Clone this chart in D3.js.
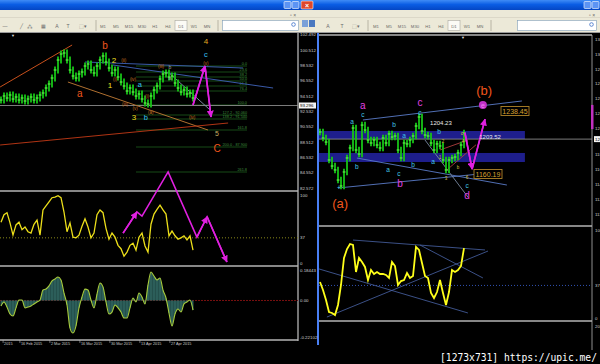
<!DOCTYPE html>
<html>
<head>
<meta charset="utf-8">
<script src="https://cdn.jsdelivr.net/npm/d3@7"></script>
<style>
  body { margin: 0; background: #000; overflow: hidden; }
  svg { display: block; font-family: "Liberation Sans", Arial, sans-serif; }
</style>
</head>
<body>
<div id="chart"></div>
<script>
// ---- values ----
// left window (D1), one close per bar
const leftClose = [94.01, 94.53, 94.27, 94.66, 94.14, 94.40, 94.01, 94.27, 93.88, 94.14,
  94.40, 94.01, 94.27, 94.66, 94.92, 95.57, 96.09, 96.87, 97.91, 99.21,
  99.99, 100.12, 99.21, 97.91, 97.13, 96.87, 97.39, 97.65, 98.43, 98.69,
  97.91, 97.52, 98.43, 99.21, 99.73, 98.95, 98.17, 97.52, 97.91, 97.00,
  96.35, 95.83, 95.18, 95.57, 95.05, 94.53, 94.79, 94.14, 93.62, 93.49,
  94.53, 95.31, 95.83, 96.74, 97.39, 97.52, 97.00, 97.13, 96.22, 95.57,
  95.05, 95.31, 94.79, 94.92, 94.27];
const leftOsc = [60, 71, 74, 59, 41, 56, 60, 49, 53, 46, 44, 57, 63, 41, 78, 84, 90, 96, 97, 99,
  96, 75, 46, 59, 38, 37, 41, 54, 65, 53, 37, 44, 71, 78, 74, 51, 35, 44, 38, 26,
  21, 10, 16, 26, 29, 19, 38, 44, 25, 16, 57, 72, 79, 85, 78, 72, 40, 47, 40, 35,
  37, 40, 34, 40, 19];
const leftMacd = [-0.033, -0.009, -0.040, -0.082, -0.094, -0.045, 0.003, 0.003, -0.045, -0.040,
  -0.033, -0.021, -0.009, 0.003, 0.063, 0.069, 0.088, 0.118, 0.130, 0.142,
  0.124, 0.045, -0.027, -0.167, -0.197, -0.154, -0.045, 0.021, 0.069, 0.063,
  0.003, -0.045, 0.039, 0.106, 0.082, -0.009, -0.082, -0.070, -0.027, -0.045,
  -0.070, -0.106, -0.106, -0.045, 0.015, -0.009, 0.045, 0.021, -0.021, 0.094,
  0.172, 0.148, 0.124, 0.136, 0.063, 0.015, -0.076, -0.154, -0.082, -0.052,
  -0.070, -0.021, -0.009, 0.003, -0.058];
// right window
const rightClose = [1212.4, 1204.9, 1199.9, 1177.6, 1170.1, 1165.2, 1152.7, 1145.3, 1162.7, 1180.1,
  1192.5, 1217.3, 1190.0, 1185.0, 1221.0, 1214.8, 1202.4, 1198.7, 1202.4, 1196.2,
  1192.5, 1204.9, 1198.7, 1209.9, 1206.1, 1207.4, 1190.0, 1180.1, 1198.7, 1197.5,
  1202.4, 1207.4, 1219.8, 1231.0, 1213.6, 1208.6, 1207.4, 1198.7, 1190.0, 1197.5,
  1195.0, 1177.6, 1165.2, 1177.6, 1180.1, 1181.3, 1186.3, 1196.2, 1211.1];
const rightOsc = [40.9, 31.8, 20.5, 6.8, 5.7, 3.4, 14.8, 37.5, 68.2, 78.4,
  84.1, 83.0, 52.3, 68.2, 63.6, 58.0, 43.2, 54.5, 50.0, 52.3,
  50.0, 50.0, 48.9, 45.5, 63.6, 59.1, 37.5, 42.0, 43.2, 51.1,
  45.5, 47.7, 80.7, 77.3, 62.5, 47.7, 45.5, 28.4, 22.7, 29.5,
  43.2, 28.4, 14.8, 29.5, 54.5, 52.3, 54.5, 59.1, 79.5];

const leftPrice = 93.296;
const rightPrice = 1203.52;
const leftPriceTicks = [102.492, 100.512, 98.532, 96.552, 94.512, 92.532, 90.552, 88.512, 86.532, 84.552, 82.572];
const rightPriceTicks = [1327.8, 1309.2, 1290.6, 1272.0, 1253.4, 1234.8, 1216.2, 1184.6, 1166.0, 1147.4, 1128.8, 1110.2];
const oscTicks = [100, 37, 0];
const macdTicks = [0.18443, 0, -0.22102];
const macdTickLabels = ["0.18443", "0.00", "-0.22102"];
const dateTicks = [0.7, 6.3, 16.3, 26.3, 36.3, 46.3, 56.3];
const dateLabels = ["2015", "16 Feb 2015", "2 Mar 2015", "16 Mar 2015", "30 Mar 2015", "13 Apr 2015", "27 Apr 2015"];
const timeframes = ["M1", "M5", "M15", "M30", "H1", "H4", "D1", "W1", "MN"];

// fibonacci expansion on the left chart
const fibPrices = [98.43, 97.65, 97.00, 96.48, 95.83, 95.18, 93.36, 92.06, 91.54, 90.11, 87.90, 84.65];
const fibLabels = ["0.0", "23.6", "38.2", "50.0", "61.8", "76.4", "100.0", "127.2 - 92.060", "138.2 - 91.540", "161.8", "200.0 - 87.900", "261.8"];

// trend lines [bar1, value1, bar2, value2, kind]
const leftLines = [
  [-0.3, 95.70, 23.7, 101.16, "orange"],
  [22.3, 96.35, 69, 90.11, "tan"],
  [-0.3, 88.16, 75.7, 91.02, "red"],
  [28, 98.95, 80.7, 98.17, "blue"],
  [37.3, 98.56, 90.7, 95.57, "blue"],
  [55.7, 97.65, 69.7, 92.71, "gray"]
];
const rightLines = [
  [14.3, 1227.3, 67.3, 1250.9, "steel"],
  [6, 1142.8, 60, 1162.7, "steel"],
  [12.3, 1180.0, 62.3, 1146.5, "steel"],
  [35, 1202.4, 49.3, 1131.6, "gray"],
  [42.3, 1165.2, 52, 1196.5, "redthin"],
  [40, 1190.0, 49.3, 1202.4, "redthin"]
];
const rightOscLines = [
  [11, 88.6, 55, 77.3],
  [-0.3, 55.7, 49.3, 5.7],
  [2.3, 1.1, 56, 76.1],
  [33.3, 83.0, 54.3, 45.5]
];
const rightZones = [[1203.7, 1213.6], [1175.1, 1186.3]];

// wave labels [text, bar, value, kind]
const leftWaves = [
  ["b", 34.7, 101.16, "primary"], ["a", 26.3, 94.92, "primary"],
  ["2", 37.7, 99.21, "inter"], ["(ii)", 40.9, 99.21, "sub"],
  ["1", 36.3, 95.96, "inter"], ["(i)", 38, 96.74, "sub"],
  ["(iv)", 44, 96.74, "sub"], ["a", 46.3, 96.09, "minor"],
  ["(iii)", 41.3, 93.49, "sub"], ["(v)", 44.7, 92.97, "sub"],
  ["(i)", 48.7, 94.53, "sub"], ["(a)", 49.9, 92.45, "sub"],
  ["3", 44.3, 91.8, "inter"], ["b", 48.3, 91.8, "minor"],
  ["(iii)", 53.3, 98.43, "sub"], ["b", 56.3, 98.30, "dim"],
  ["a", 56.3, 96.87, "dim"], ["(iv)", 63.7, 91.80, "sub"],
  ["4", 68.3, 101.68, "four"], ["c", 68.3, 99.99, "minor"],
  ["(v)", 68.3, 98.82, "sub"], ["5", 72, 89.72, "five"],
  ["C", 72, 87.77, "primary"]
];
const rightWaves = [
  ["a", 14.3, 1244.7, "magenta"], ["c", 14.3, 1233.5, "cyan"],
  ["a", 10.7, 1226.0, "cyan"], ["c", 33.3, 1249.6, "magenta"],
  ["c", 33.3, 1236.0, "cyan"], ["b", 12.3, 1168.9, "cyan"],
  ["b", 24.7, 1221.1, "cyan"], ["a", 28, 1207.4, "cyan"],
  ["a", 22.7, 1165.2, "cyan"], ["c", 26.3, 1160.2, "cyan"],
  ["b", 31, 1172.6, "cyan"], ["b", 26.7, 1147.8, "magenta"],
  ["1204.23", 40.3, 1223.5, "white"], ["b", 39.7, 1212.4, "cyan"],
  ["a", 37.7, 1175.1, "cyan"], ["3", 42, 1155.2, "num"],
  ["c", 49, 1146.5, "cyan"], ["d", 49, 1132.9, "magenta"],
  ["(a)", 6.7, 1123.5, "primaryL"], ["(b)", 54.7, 1264.5, "primaryL"],
  ["+", 6.3, 1142.8, "cyan"], ["1203.52", 56.7, 1206.2, "white"],
  ["c", 47.3, 1209.9, "num"], ["4", 47.7, 1200.0, "num"],
  ["2", 41, 1200.0, "num"], ["1", 40, 1181.3, "num"],
  ["b", 46, 1167.7, "num"], ["6", 49, 1156.4, "num"]
];
const rightBoxes = [["1238.45", 65, 1238.45], ["1160.19", 56, 1160.19]];
const rightTarget = [54.3, 1245.9]; // the "e" point

// forecast arrows [bar, value, arrowhead]
const leftArrowPrice = [[64, 93.36, 0], [68, 98.43, 1], [70, 91.80, 1]];
const leftArrowOsc = [[40.7, 44, 0], [45.3, 75, 1], [47, 69, 0], [55.7, 134, 0], [65.3, 38, 0], [68.7, 68, 1], [75.3, 1.5, 1]];
const rightArrowPrice = [[48.3, 1211.4, 0], [50.7, 1166.3, 1], [55, 1228.3, 1]];

// ---- styles ----
const lineColor = { orange: "#c8501c", tan: "#b07030", red: "#b03414", blue: "#3a5aa8",
  gray: "#7888a0", steel: "#5a7cc8", redthin: "#b04040" };
const waveStyle = {
  primary: ["#f0561c", 10], primaryL: ["#f0561c", 13], inter: ["#f0e020", 8],
  minor: ["#38c0f0", 7.5], sub: ["#c87020", 4.5], dim: ["#a0a0a0", 5],
  four: ["#e0a820", 8], five: ["#c8b060", 7], magenta: ["#e040e0", 10],
  cyan: ["#40c8e8", 6.5], white: ["#e8e8e8", 6], num: ["#d8c040", 4.5]
};
const magenta = "#e020e0";

const W = 600, H = 364;
const svg = d3.select("#chart").append("svg").attr("width", W).attr("height", H);
svg.append("rect").attr("width", W).attr("height", H).attr("fill", "#000");

const defs = svg.append("defs");
const grad = defs.append("linearGradient").attr("id", "title").attr("x1", 0).attr("y1", 0).attr("x2", 0).attr("y2", 1);
grad.append("stop").attr("offset", "0%").attr("stop-color", "#3f8cf6");
grad.append("stop").attr("offset", "45%").attr("stop-color", "#0a5de4");
grad.append("stop").attr("offset", "100%").attr("stop-color", "#0446c4");
defs.append("marker").attr("id", "arrow").attr("viewBox", "0 0 10 10")
  .attr("refX", 9).attr("refY", 5).attr("markerWidth", 7).attr("markerHeight", 7)
  .attr("markerUnits", "userSpaceOnUse").attr("orient", "auto")
  .append("path").attr("d", "M0,0L10,5L0,10z").attr("fill", magenta);
defs.append("clipPath").attr("id", "clipL").append("rect").attr("x", 0).attr("y", 33).attr("width", 298).attr("height", 307);
defs.append("clipPath").attr("id", "clipR").append("rect").attr("x", 319).attr("y", 36).attr("width", 273).attr("height", 285);

// ---- title bar + toolbars ----
svg.append("rect").attr("width", W).attr("height", 10).attr("fill", "url(#title)");
svg.append("rect").attr("y", 10).attr("width", W).attr("height", 23).attr("fill", "#ece9d8");
svg.append("line").attr("x1", 0).attr("x2", W).attr("y1", 17.5).attr("y2", 17.5).attr("stroke", "#dcd8c8");
svg.append("line").attr("x1", 0).attr("x2", W).attr("y1", 32.5).attr("y2", 32.5).attr("stroke", "#9a9a9a");
[[284, "#5c94f4"], [292, "#5c94f4"], [584, "#5c94f4"], [592, "#5c94f4"]].forEach(([x, c]) => {
  svg.append("rect").attr("x", x).attr("y", 1.5).attr("width", 7).attr("height", 7).attr("rx", 1)
    .attr("fill", c).attr("stroke", "#fff").attr("stroke-width", 0.6);
});
svg.append("rect").attr("x", 301).attr("y", 1).attr("width", 12).attr("height", 8).attr("rx", 1)
  .attr("fill", "#e0482a").attr("stroke", "#fff").attr("stroke-width", 0.6);
svg.append("text").attr("x", 307).attr("y", 8).attr("text-anchor", "middle").attr("font-size", 7)
  .attr("font-weight", "bold").attr("fill", "#fff").text("×");
svg.append("text").attr("x", 290).attr("y", 16.5).attr("font-size", 5).attr("fill", "#666").text("▫ ×");
svg.append("text").attr("x", 589).attr("y", 16.5).attr("font-size", 5).attr("fill", "#666").text("▫ ×");
svg.append("rect").attr("x", 302).attr("y", 20).attr("width", 6).attr("height", 7).attr("fill", "#7aa0d8");
svg.append("rect").attr("x", 309).attr("y", 20).attr("width", 6).attr("height", 7).attr("fill", "#4a78c0");

function toolbar(icons, sepA, tfX, searchX, searchW) {
  const t = svg.append("g").attr("font-size", 5).attr("fill", "#6a6a6a");
  icons.forEach(([x, s]) => t.append("text").attr("x", x).attr("y", 28).attr("text-anchor", "middle").text(s));
  [sepA, tfX + timeframes.length * 13 - 2].forEach(x =>
    t.append("line").attr("x1", x).attr("x2", x).attr("y1", 20).attr("y2", 31).attr("stroke", "#b8b4a4"));
  timeframes.forEach((tf, k) => {
    const x = tfX + k * 13;
    if (tf === "D1") t.append("rect").attr("x", x - 6).attr("y", 20.5).attr("width", 12).attr("height", 10)
      .attr("fill", "#fbfaf5").attr("stroke", "#a8a8a0").attr("stroke-width", 0.6);
    t.append("text").attr("x", x).attr("y", 27.5).attr("text-anchor", "middle").attr("font-size", 4.3).text(tf);
  });
  t.append("rect").attr("x", searchX).attr("y", 20.5).attr("width", searchW).attr("height", 10)
    .attr("fill", "#fff").attr("stroke", "#7f9db9").attr("stroke-width", 0.6);
  t.append("circle").attr("cx", searchX + searchW - 5).attr("cy", 24.5).attr("r", 1.8)
    .attr("fill", "none").attr("stroke", "#3a6ec8").attr("stroke-width", 0.8);
}
toolbar([[5, "—"], [21, "╱"], [30, "⁂"], [43, "▦"], [57, "A"], [68, "T"], [83, "⬚▾"]], 96, 103, 222.5, 76);
toolbar([[328, "A"], [342, "T"], [356, "⬚▾"]], 368, 376, 517.5, 79);
svg.append("text").attr("x", 13).attr("y", 37).attr("font-size", 4).attr("fill", "#ddd").attr("text-anchor", "middle").text("▼");
svg.append("text").attr("x", 463).attr("y", 39).attr("font-size", 4).attr("fill", "#ddd").attr("text-anchor", "middle").text("▼");

// ---- scales ----
const xL = d3.scaleLinear().domain([0, 99]).range([1, 298]);
const yL = d3.scaleLinear().domain([82.572, 100.512]).range([188, 50]);
const yOscL = d3.scaleLinear().domain([0, 100]).range([263, 195]);
const yMacd = d3.scaleLinear().domain([-0.22102, 0.18443]).range([337, 270]);
const xR = d3.scaleLinear().domain([0, 91]).range([320, 593]);
const yR = d3.scaleLinear().domain([1160.19, 1238.45]).range([174, 111]);
const yOscR = d3.scaleLinear().domain([0, 100]).range([318, 230]);

// ---- pane frames ----
const frame = svg.append("g").attr("stroke", "#b4b4b4").attr("stroke-width", 1.3);
[191, 266, 340].forEach(y => frame.append("line").attr("x1", 0).attr("x2", 298).attr("y1", y).attr("y2", y));
frame.append("line").attr("x1", 298).attr("x2", 298).attr("y1", 33).attr("y2", 341);
[35, 226, 321].forEach(y => frame.append("line").attr("x1", 319).attr("x2", 592).attr("y1", y).attr("y2", y));
frame.append("line").attr("x1", 592).attr("x2", 592).attr("y1", 35).attr("y2", 350).attr("stroke-width", 0.8);
svg.append("line").attr("x1", 318).attr("x2", 318).attr("y1", 33).attr("y2", 345)
  .attr("stroke", "#4a80f4").attr("stroke-width", 2);

function drawBars(g, closes, x, y, pad) {
  g.selectAll(null).data(closes).join("line")
    .attr("x1", (d, i) => x(i)).attr("x2", (d, i) => x(i))
    .attr("y1", (d, i) => y(Math.max(d, i ? closes[i - 1] : d) + pad))
    .attr("y2", (d, i) => y(Math.min(d, i ? closes[i - 1] : d) - pad))
    .attr("stroke", "#17c417").attr("stroke-width", 1.8);
  g.selectAll(null).data(closes).join("line")
    .attr("x1", (d, i) => x(i) - 1.4).attr("x2", (d, i) => x(i) + 1.6)
    .attr("y1", d => y(d)).attr("y2", d => y(d))
    .attr("stroke", "#7cff5c").attr("stroke-width", 0.9);
}
function drawLines(g, lines, x, y, colorOf, width) {
  g.selectAll(null).data(lines).join("line")
    .attr("x1", d => x(d[0])).attr("y1", d => y(d[1]))
    .attr("x2", d => x(d[2])).attr("y2", d => y(d[3]))
    .attr("stroke", colorOf).attr("stroke-width", width);
}
function drawWaves(g, waves, x, y) {
  g.selectAll(null).data(waves).join("text")
    .attr("x", d => x(d[1])).attr("y", d => y(d[2]))
    .attr("text-anchor", "middle").attr("dominant-baseline", "central")
    .attr("fill", d => waveStyle[d[3]][0]).attr("font-size", d => waveStyle[d[3]][1])
    .text(d => d[0]);
}
function drawArrow(g, pts, x, y) {
  g.append("path").attr("d", d3.line().x(d => x(d[0])).y(d => y(d[1]))(pts))
    .attr("fill", "none").attr("stroke", magenta).attr("stroke-width", 1.6);
  pts.forEach((p, k) => {
    if (!p[2]) return;
    g.append("line").attr("x1", x(pts[k - 1][0])).attr("y1", y(pts[k - 1][1]))
      .attr("x2", x(p[0])).attr("y2", y(p[1]))
      .attr("stroke", magenta).attr("stroke-width", 1.6).attr("marker-end", "url(#arrow)");
  });
}
function axisLabels(ticks, labels, y, x, size) {
  svg.append("g").selectAll(null).data(ticks).join("text")
    .attr("x", x).attr("y", d => y(d)).attr("dominant-baseline", "central")
    .attr("font-size", size).attr("fill", "#d0d0d0").text((d, i) => labels[i]);
}

// ---- left window ----
const L = svg.append("g").attr("clip-path", "url(#clipL)");
L.selectAll(null).data(fibPrices).join("line")
  .attr("x1", xL(45)).attr("x2", xL(82)).attr("y1", d => yL(d)).attr("y2", d => yL(d))
  .attr("stroke", "#1d5e1d").attr("stroke-width", 0.8);
L.selectAll(null).data(fibPrices).join("text")
  .attr("x", xL(82)).attr("y", d => yL(d) - 1.2).attr("text-anchor", "end")
  .attr("font-size", 3.8).attr("fill", "#3c8c3c").text((d, i) => fibLabels[i]);
L.append("line").attr("x1", 0).attr("x2", 298).attr("y1", yL(leftPrice)).attr("y2", yL(leftPrice))
  .attr("stroke", "#9a9a9a").attr("stroke-width", 0.8);
drawLines(L, leftLines, xL, yL, d => lineColor[d[4]], 1);
drawBars(L, leftClose, xL, yL, 0.45);
drawWaves(L, leftWaves, xL, yL);
drawArrow(L, leftArrowPrice, xL, yL);

// oscillator
L.append("line").attr("x1", 0).attr("x2", 298).attr("y1", yOscL(37)).attr("y2", yOscL(37))
  .attr("stroke", "#8a8a1a").attr("stroke-dasharray", "1,2");
L.append("path").attr("d", d3.line().x((d, i) => xL(i)).y(d => yOscL(d))(leftOsc))
  .attr("fill", "none").attr("stroke", "#ecdf1a").attr("stroke-width", 1.3);
drawArrow(L, leftArrowOsc, xL, yOscL);

// macd-like histogram
L.append("line").attr("x1", 0).attr("x2", 298).attr("y1", yMacd(0)).attr("y2", yMacd(0))
  .attr("stroke", "#7a1010").attr("stroke-dasharray", "2,1");
L.append("path").attr("d", d3.area().x((d, i) => xL(i)).y0(yMacd(0)).y1(d => yMacd(d))(leftMacd))
  .attr("fill", "#24504c");
L.selectAll(null).data(leftMacd).join("line")
  .attr("x1", (d, i) => xL(i)).attr("x2", (d, i) => xL(i)).attr("y1", yMacd(0)).attr("y2", d => yMacd(d))
  .attr("stroke", "#3b7470").attr("stroke-width", 0.8);
L.append("path").attr("d", d3.line().curve(d3.curveMonotoneX).x((d, i) => xL(i)).y(d => yMacd(d))(leftMacd))
  .attr("fill", "none").attr("stroke", "#a8cc3c").attr("stroke-width", 1.1);

// left axis texts
axisLabels(leftPriceTicks, leftPriceTicks.map(d => d.toFixed(3)), yL, 300, 4.4);
svg.append("rect").attr("x", 299).attr("y", yL(leftPrice) - 3).attr("width", 17).attr("height", 6).attr("fill", "#f4f4f4");
svg.append("text").attr("x", 300).attr("y", yL(leftPrice)).attr("dominant-baseline", "central")
  .attr("font-size", 4.4).attr("fill", "#000").text(leftPrice.toFixed(3));
axisLabels(oscTicks, oscTicks.map(String), yOscL, 300, 4.4);
axisLabels(macdTicks, macdTickLabels, yMacd, 300, 4.4);
svg.append("g").selectAll(null).data(dateTicks).join("text")
  .attr("x", d => xL(d) + 1).attr("y", 345).attr("font-size", 3.8).attr("fill", "#c8c8c8")
  .text((d, i) => dateLabels[i]);
svg.append("g").selectAll(null).data(dateTicks).join("line")
  .attr("x1", d => xL(d)).attr("x2", d => xL(d)).attr("y1", 340).attr("y2", 343)
  .attr("stroke", "#b4b4b4").attr("stroke-width", 0.6);

// ---- right window ----
const R = svg.append("g").attr("clip-path", "url(#clipR)");
R.selectAll(null).data(rightZones).join("rect")
  .attr("x", xR(-1)).attr("width", xR(68.3) - xR(-1))
  .attr("y", d => yR(d[1])).attr("height", d => yR(d[0]) - yR(d[1]))
  .attr("fill", "#1e1e8c");
R.append("line").attr("x1", 319).attr("x2", 592).attr("y1", yR(rightPrice)).attr("y2", yR(rightPrice))
  .attr("stroke", "#9a9a9a").attr("stroke-width", 0.8);
drawLines(R, rightLines, xR, yR, d => lineColor[d[4]], 0.9);
drawBars(R, rightClose, xR, yR, 4);
drawArrow(R, rightArrowPrice, xR, yR);
R.append("circle").attr("cx", xR(rightTarget[0])).attr("cy", yR(rightTarget[1])).attr("r", 4)
  .attr("fill", "#c030c8");
R.append("text").attr("x", xR(rightTarget[0])).attr("y", yR(rightTarget[1])).attr("text-anchor", "middle")
  .attr("dominant-baseline", "central").attr("font-size", 7).attr("fill", "#f080f0").text("e");
drawWaves(R, rightWaves, xR, yR);
rightBoxes.forEach(([t, i, v]) => {
  const x = xR(i), y = yR(v);
  R.append("rect").attr("x", x - 14).attr("y", y - 4.5).attr("width", 28).attr("height", 9)
    .attr("fill", "#000").attr("stroke", "#b08428").attr("stroke-width", 0.9);
  R.append("text").attr("x", x).attr("y", y).attr("text-anchor", "middle").attr("dominant-baseline", "central")
    .attr("font-size", 7).attr("fill", "#d8a030").text(t);
});

// right oscillator
R.append("line").attr("x1", 319).attr("x2", 592).attr("y1", yOscR(37)).attr("y2", yOscR(37))
  .attr("stroke", "#3050b0").attr("stroke-dasharray", "1,2");
drawLines(R, rightOscLines, xR, yOscR, "#4a64a8", 0.8);
R.append("path").attr("d", d3.line().x((d, i) => xR(i)).y(d => yOscR(d))(rightOsc))
  .attr("fill", "none").attr("stroke", "#ffff1a").attr("stroke-width", 1.8);

// right axis texts, cut by the screen edge as in the screenshot
svg.append("rect").attr("x", 591).attr("y", yR(1246)).attr("width", 2.5).attr("height", yR(1216) - yR(1246)).attr("fill", "#c030c0");
axisLabels(rightPriceTicks, rightPriceTicks.map(d => d.toFixed(2)), yR, 595, 4.4);
svg.append("rect").attr("x", 594).attr("y", yR(rightPrice) - 3).attr("width", 8).attr("height", 6).attr("fill", "#f4f4f4");
svg.append("text").attr("x", 595).attr("y", yR(rightPrice)).attr("dominant-baseline", "central")
  .attr("font-size", 4.4).attr("fill", "#000").text(rightPrice.toFixed(2));
axisLabels(oscTicks, oscTicks.map(String), yOscR, 595, 4.4);
svg.append("text").attr("x", 595).attr("y", 326).attr("dominant-baseline", "central")
  .attr("font-size", 4.4).attr("fill", "#d0d0d0").text("20");

// watermark
svg.append("text").attr("x", 440).attr("y", 361).attr("font-family", "DejaVu Sans Mono")
  .attr("font-size", 11).attr("fill", "#fff").attr("textLength", 157).attr("lengthAdjust", "spacingAndGlyphs")
  .text("[1273x731] https://upic.me/");
</script>
</body>
</html>
